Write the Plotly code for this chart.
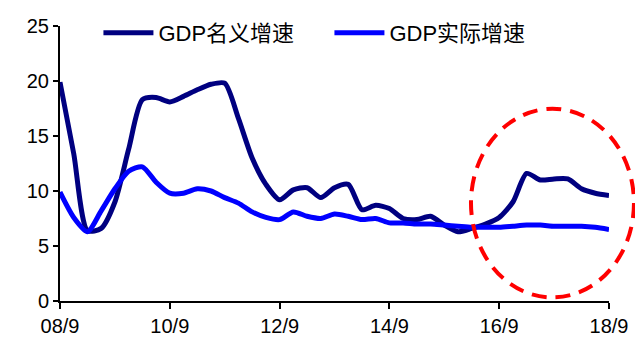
import plotly.graph_objects as go

# Quarterly year-on-year GDP growth, 2008Q3 .. 2018Q3
quarters = list(range(41))
tick_vals = [0, 8, 16, 24, 32, 40]
tick_text = ["08/9", "10/9", "12/9", "14/9", "16/9", "18/9"]

nominal_growth = [
    19.9, 13.4, 6.4, 6.6, 9.0, 13.8, 18.3, 18.5, 18.1, 18.6,
    19.2, 19.7, 19.8, 16.6, 13.0, 10.6, 9.2, 10.1, 10.3, 9.4,
    10.3, 10.6, 8.3, 8.7, 8.4, 7.5, 7.4, 7.7, 6.9, 6.3,
    6.6, 7.0, 7.6, 9.0, 11.6, 11.0, 11.1, 11.1, 10.2, 9.8,
    9.6,
]
real_growth = [
    9.9, 7.6, 6.3, 8.2, 10.2, 11.8, 12.2, 10.8, 9.8, 9.8,
    10.2, 10.0, 9.4, 8.9, 8.1, 7.6, 7.4, 8.1, 7.7, 7.5,
    7.9, 7.7, 7.4, 7.5, 7.1, 7.1, 7.0, 7.0, 6.9, 6.8,
    6.7, 6.7, 6.7, 6.8, 6.9, 6.9, 6.8, 6.8, 6.8, 6.7,
    6.5,
]

fig = go.Figure()
fig.add_trace(go.Scatter(
    x=quarters, y=nominal_growth, name="GDP名义增速", mode="lines",
    line=dict(color="#000080", width=5, shape="spline", smoothing=0.7),
))
fig.add_trace(go.Scatter(
    x=quarters, y=real_growth, name="GDP实际增速", mode="lines",
    line=dict(color="#0000FF", width=5, shape="spline", smoothing=0.7),
))

# red dashed ellipse highlighting the recent rebound
fig.add_shape(
    type="circle", xref="paper", yref="paper",
    x0=0.7486, x1=1.0455, y0=0.013, y1=0.699,
    line=dict(color="#FF0000", width=4, dash="15px,9px"),
)

axis_font = dict(family="Liberation Sans, Arial, sans-serif", size=20, color="#000000")

fig.update_layout(
    width=635, height=340,
    margin=dict(l=60, r=26, t=21, b=39),
    paper_bgcolor="white", plot_bgcolor="white",
    showlegend=True,
    legend=dict(
        orientation="h", x=0.07, y=0.975, xanchor="left", yanchor="middle",
        font=dict(family="Liberation Sans, Noto Sans CJK SC, sans-serif", size=22, color="#000000"),
        bgcolor="rgba(0,0,0,0)", entrywidth=166, itemwidth=50,
    ),
    xaxis=dict(
        range=[0, 40], tickvals=tick_vals, ticktext=tick_text, automargin=False,
        showgrid=False, zeroline=False, showline=True, linecolor="#000000", linewidth=2,
        ticks="outside", ticklen=6, tickwidth=1.5, tickcolor="#000000",
        tickfont=axis_font,
    ),
    yaxis=dict(
        range=[0, 25], tickvals=[0, 5, 10, 15, 20, 25], automargin=False,
        showgrid=False, zeroline=False, showline=True, linecolor="#000000", linewidth=2,
        ticks="outside", ticklen=5, tickwidth=1.5, tickcolor="#000000",
        tickfont=axis_font,
    ),
)

fig.write_html("out.html")
